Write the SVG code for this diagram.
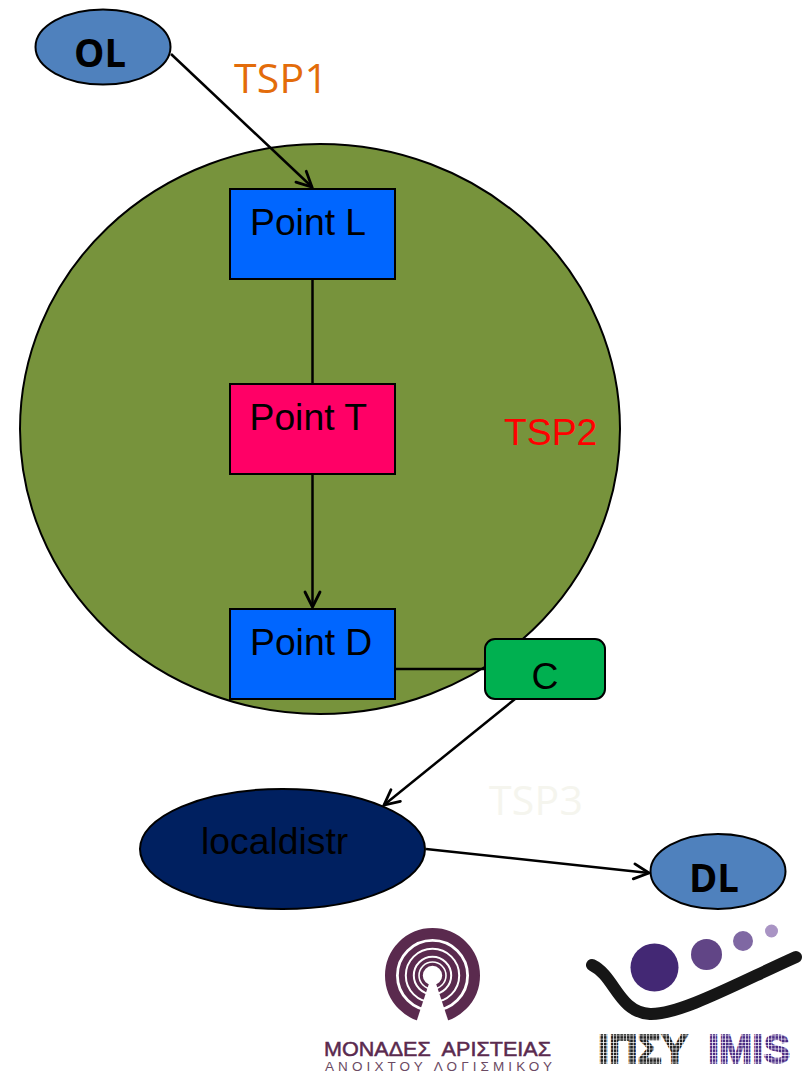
<svg xmlns="http://www.w3.org/2000/svg" width="804" height="1072" viewBox="0 0 804 1072">
<style>
.s{stroke:#000;stroke-width:2}
.t{font-family:"Liberation Sans",Arial,sans-serif;font-size:37.300px;fill:#000}
.k{font-family:"Open Sans","Noto Sans",sans-serif}
.b{font-weight:bold;font-size:39px;fill:#000}
.c{fill:none;stroke:#000;stroke-width:2.500}
.h{fill:none;stroke:#000;stroke-width:2.800;stroke-linecap:round}
.l{font-family:"Liberation Sans",Arial,sans-serif;font-weight:bold;font-size:41px;stroke-width:1.500}
</style>
<defs>
<marker id="a" markerUnits="userSpaceOnUse" markerWidth="24" markerHeight="24" refX="20" refY="12" orient="auto"><path d="M5 4.500L20 12L5 19.500" class="h"/></marker>
<pattern id="dotk" width="3.300" height="3.300" patternUnits="userSpaceOnUse"><rect width="2.600" height="2.600" fill="#222"/></pattern>
<pattern id="dotp" width="3.300" height="3.300" patternUnits="userSpaceOnUse"><rect width="2.600" height="2.600" fill="#4a2c84"/></pattern>
</defs>
<rect width="804" height="1072" fill="#fff"/>
<g id="tsp2"><ellipse cx="320" cy="429" rx="300" ry="285" fill="#77933c" stroke="#000" stroke-width="2"/><text x="504" y="445" font-family="Liberation Sans,Arial,sans-serif" font-size="37.300" fill="#f00">TSP2</text></g>
<g id="connectors">
<path class="c" d="M171 54L312 187" marker-end="url(#a)"/>
<path class="c" d="M312.500 279V384"/>
<path class="c" d="M312.500 474V607" marker-end="url(#a)"/>
<path class="c" d="M396 669H485"/>
<path class="c" d="M515 699L384 805" marker-end="url(#a)"/>
<path class="c" d="M426 849L649 873" marker-end="url(#a)"/>
</g>
<g id="ol"><ellipse cx="103" cy="47" rx="67.500" ry="37.500" fill="#4f81bd" class="s"/><text x="74" y="67" class="k b" textLength="52" lengthAdjust="spacingAndGlyphs">OL</text></g>
<g id="tsp1"><text x="234" y="93" class="k" font-size="41" fill="#e36c0a" textLength="94" lengthAdjust="spacing">TSP1</text></g>
<g id="point-l"><rect x="230" y="189" width="165" height="90" fill="#0066ff" class="s"/><text x="250" y="235" class="t">Point L</text></g>
<g id="point-t"><rect x="230" y="384" width="165" height="90" fill="#ff0066" class="s"/><text x="249.500" y="430" class="t">Point T</text></g>
<g id="point-d"><rect x="230" y="609" width="165" height="90" fill="#0066ff" class="s"/><text x="250" y="655" class="t">Point D</text></g>
<g id="c"><rect x="485" y="639" width="120" height="60" rx="10" fill="#00b050" class="s"/><text x="545" y="689" class="t" text-anchor="middle">C</text></g>
<g id="tsp3"><text x="489" y="815" class="k" font-size="41" fill="#f5f5ee" textLength="94" lengthAdjust="spacing">TSP3</text></g>
<g id="localdistr"><ellipse cx="282.500" cy="849" rx="142.500" ry="60" fill="#002060" class="s"/><text x="201" y="854" class="t">localdistr</text></g>
<g id="dl"><ellipse cx="718" cy="871.500" rx="67.500" ry="37.500" fill="#4f81bd" class="s"/><text x="689" y="892" class="k b" textLength="50" lengthAdjust="spacingAndGlyphs">DL</text></g>
<g id="logo-left" fill="none" stroke="#5a2a4e">
<circle cx="432.500" cy="975.500" r="42" stroke-width="11"/>
<circle cx="432.500" cy="975.500" r="30.700" stroke-width="6"/>
<circle cx="432.500" cy="975.500" r="22.700" stroke-width="6"/>
<circle cx="432.500" cy="975.500" r="16" stroke-width="3.400"/>
<circle cx="432.500" cy="975.500" r="11.200" stroke-width="3"/>
<path d="M429.500 982H435.500L450 1026H415Z" fill="#fff" stroke="none"/>
<text x="324" y="1056" font-family="Liberation Sans,Arial,sans-serif" font-size="20" fill="#5a2a4e" stroke="#5a2a4e" stroke-width="0.500" textLength="227" lengthAdjust="spacingAndGlyphs" xml:space="preserve">ΜΟΝΑΔΕΣ  ΑΡΙΣΤΕΙΑΣ</text>
<text x="325" y="1071" font-family="Liberation Sans,Arial,sans-serif" font-size="13.500" fill="#6b4a63" stroke="none" textLength="227" lengthAdjust="spacing">ΑΝΟΙΧΤΟΥ ΛΟΓΙΣΜΙΚΟΥ</text>
</g>
<g id="logo-right">
<path d="M592 965C615 976 618 1012 650 1014C680 1015 740 982 796 957" fill="none" stroke="#161616" stroke-width="12" stroke-linecap="round"/>
<circle cx="654.500" cy="967.500" r="24" fill="#432874"/>
<circle cx="706.500" cy="954.500" r="15.500" fill="#614586"/>
<circle cx="743" cy="941" r="10" fill="#7f68a3"/>
<circle cx="771.500" cy="931" r="6.500" fill="#a994c4"/>
<text x="598" y="1063" class="l" fill="url(#dotk)" stroke="url(#dotk)" textLength="90" lengthAdjust="spacingAndGlyphs">ΙΠΣΥ</text>
<text x="708" y="1063" class="l" fill="url(#dotp)" stroke="url(#dotp)" textLength="82" lengthAdjust="spacingAndGlyphs">IMIS</text>
</g>
</svg>
